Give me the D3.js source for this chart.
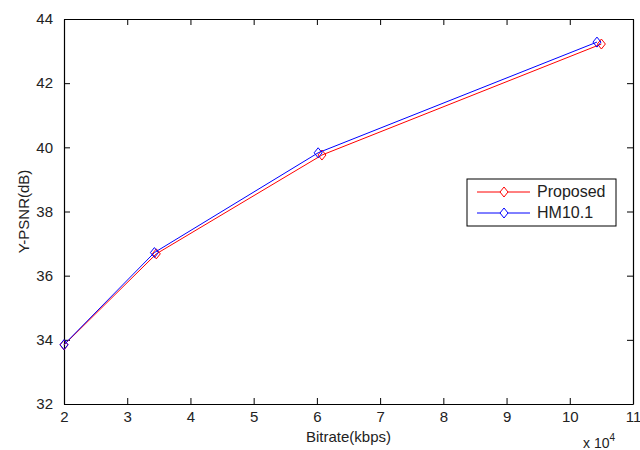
<!DOCTYPE html>
<html>
<head>
<meta charset="utf-8">
<script src="https://cdn.jsdelivr.net/npm/d3@7"></script>
<style>
  html, body { margin: 0; padding: 0; background: #fff; }
  svg { display: block; font-family: "Liberation Sans", Arial, sans-serif; }
</style>
</head>
<body>
<svg id="chart" width="640" height="450"></svg>
<script>
// Data (bitrate in units of 10^4 kbps)
const seriesNames = ["Proposed", "HM10.1"];
const seriesColors = ["#ff0000", "#0000ff"];
const proposedX = [2.00, 3.46, 6.08, 10.50];
const proposedY = [33.84, 36.68, 39.76, 43.22];
const hmX = [2.00, 3.43, 6.02, 10.43];
const hmY = [33.85, 36.72, 39.83, 43.28];
const xTicks = [2, 3, 4, 5, 6, 7, 8, 9, 10, 11];
const yTicks = [32, 34, 36, 38, 40, 42, 44];
const xLabel = "Bitrate(kbps)";
const yLabel = "Y-PSNR(dB)";

const svg = d3.select("#chart");
const L = 64, R = 633, T = 19, B = 404;
const x = d3.scaleLinear().domain([2, 11]).range([L, R]);
const y = d3.scaleLinear().domain([32, 44]).range([B, T]);
const tickLen = 6;
const fontSize = 15;

// axes (inward ticks on all four sides)
const axB = svg.append("g").attr("transform", `translate(0,${B})`)
  .call(d3.axisBottom(x).tickValues(xTicks).tickSizeInner(-tickLen).tickSizeOuter(0).tickPadding(tickLen + 1).tickFormat(d3.format("d")));
const axT = svg.append("g").attr("transform", `translate(0,${T})`)
  .call(d3.axisTop(x).tickValues(xTicks).tickSizeInner(-tickLen).tickSizeOuter(0).tickFormat(""));
const axL = svg.append("g").attr("transform", `translate(${L},0)`)
  .call(d3.axisLeft(y).tickValues(yTicks).tickSizeInner(-tickLen).tickSizeOuter(0).tickPadding(tickLen + 5).tickFormat(d3.format("d")));
const axR = svg.append("g").attr("transform", `translate(${R},0)`)
  .call(d3.axisRight(y).tickValues(yTicks).tickSizeInner(-tickLen).tickSizeOuter(0).tickFormat(""));
[axB, axT, axL, axR].forEach(g => {
  g.selectAll(".domain").attr("stroke", "#000").attr("stroke-width", 1.2);
  g.selectAll(".tick line").attr("stroke", "#000");
  g.selectAll("text").attr("font-size", fontSize).attr("fill", "#222").attr("font-family", "Liberation Sans, Arial, sans-serif");
});

// axis labels
svg.append("text").attr("x", (L + R) / 2).attr("y", 442).attr("text-anchor", "middle")
  .attr("font-size", fontSize).attr("fill", "#222").text(xLabel);
svg.append("text").attr("transform", `translate(29,${(T + B) / 2}) rotate(-90)`).attr("text-anchor", "middle")
  .attr("font-size", fontSize).attr("fill", "#222").text(yLabel);
const exp = svg.append("text").attr("x", 583).attr("y", 448).attr("font-size", 14).attr("fill", "#222");
exp.append("tspan").text("x 10");
exp.append("tspan").attr("dy", -7).attr("font-size", 10).text("4");

// series
const diamond = (cx, cy) => `M${cx},${cy - 5}L${cx + 4},${cy}L${cx},${cy + 5}L${cx - 4},${cy}Z`;
const series = [
  { name: seriesNames[0], color: seriesColors[0], pts: proposedX.map((v, i) => [v, proposedY[i]]) },
  { name: seriesNames[1], color: seriesColors[1], pts: hmX.map((v, i) => [v, hmY[i]]) }
];
const line = d3.line().x(d => x(d[0])).y(d => y(d[1]));
series.forEach(s => {
  svg.append("path").datum(s.pts).attr("d", line).attr("fill", "none").attr("stroke", s.color).attr("stroke-width", 1);
  svg.append("g").selectAll("path").data(s.pts).join("path")
    .attr("d", d => diamond(x(d[0]), y(d[1]))).attr("fill", "none").attr("stroke", s.color).attr("stroke-width", 1);
});

// legend
const lg = svg.append("g");
lg.append("rect").attr("x", 467).attr("y", 179).attr("width", 149).attr("height", 47)
  .attr("fill", "#fff").attr("stroke", "#000").attr("stroke-width", 1);
series.forEach((s, i) => {
  const ly = 192 + i * 21;
  lg.append("line").attr("x1", 477).attr("x2", 530).attr("y1", ly).attr("y2", ly).attr("stroke", s.color);
  lg.append("path").attr("d", diamond(504, ly)).attr("fill", "#fff").attr("stroke", s.color);
  lg.append("text").attr("x", 537).attr("y", ly + 5).attr("font-size", 16).attr("fill", "#222").text(s.name);
});
</script>
</body>
</html>
